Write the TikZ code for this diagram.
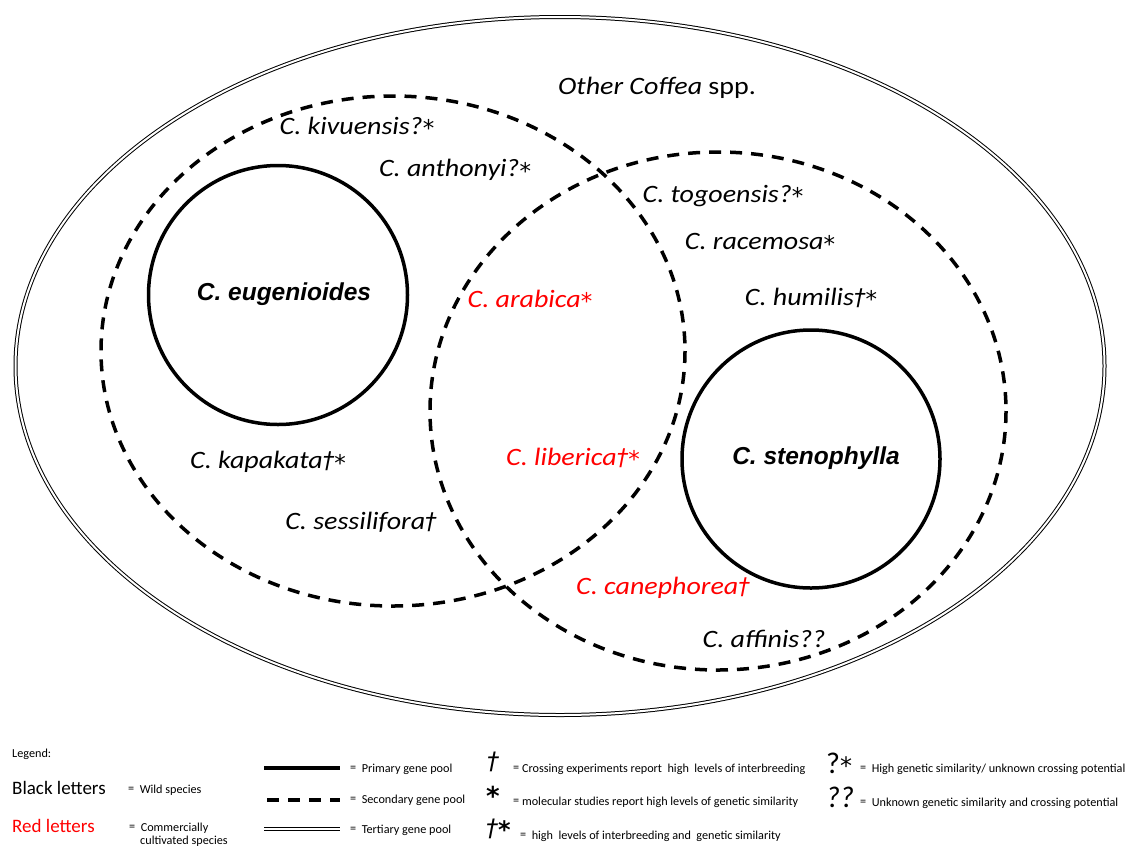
\documentclass[tikz,border=0pt]{standalone}
\usepackage{fontspec}
\setmainfont{Carlito}
\newfontfamily\widefont{Carlito}[FakeStretch=1.12]
\newfontfamily\arialfont{Liberation Sans}
\newfontfamily\djv{DejaVu Sans}
\definecolor{cred}{RGB}{255,0,0}
\newcommand{\myast}{{\djv\fontsize{23}{25}\selectfont\raisebox{-2.5pt}{*}}}
\newcommand{\mydag}{{\djv\itshape\fontsize{23}{25}\selectfont †}}
\newcommand{\eq}{\raisebox{0.3pt}{=}}
\begin{document}
\begin{tikzpicture}[x=1pt,y=-1pt,
  pool1/.style={draw=black,line width=3.5pt},
  pool2/.style={draw=black,line width=3.5pt,dash pattern=on 12pt off 9pt},
  pool3/.style={draw=black,line width=1pt,double,double distance=2pt},
  lab/.style={font=\widefont\fontsize{25}{29}\selectfont\itshape,inner sep=0pt},
  redlab/.style={lab,text=cred},
  boldlab/.style={font=\fontsize{24.5}{28}\selectfont\arialfont\bfseries\itshape,inner sep=0pt},
  leg/.style={font=\fontsize{12.2}{15}\selectfont,anchor=west,inner sep=0pt},
  legbig/.style={font=\fontsize{19}{23}\selectfont,anchor=west,inner sep=0pt},
  sym/.style={font=\djv\fontsize{24}{28}\selectfont,anchor=west,inner sep=0pt}]
\useasboundingbox (0,0) rectangle (1145,849);
% pools
\draw[pool3] (560,366) ellipse [x radius=544.5, y radius=349];
\draw[pool2] (393,351) ellipse [x radius=292, y radius=255];
\draw[pool2] (718,411) ellipse [x radius=288, y radius=259];
\draw[pool1] (278,295) circle [radius=129.5];
\draw[pool1] (811,459) circle [radius=129];
% labels
\node[lab] (other) at (657,88) {Other Coffea \upshape spp.};
\node[lab] (kiv) at (357,127) {C. kivuensis?\myast};
\node[lab] (ant) at (455,170) {C. anthonyi?\myast};
\node[lab] (tog) at (723,196) {C. togoensis?\myast};
\node[lab] (rac) at (760,243) {C. racemosa\myast};
\node[lab] (hum) at (811,298) {C. humilis\mydag\myast};
\node[boldlab] (eug) at (284,294) {C. eugenioides};
\node[redlab] (ara) at (530,300) {C. arabica\myast};
\node[redlab] (lib) at (573,458) {C. liberica\mydag\myast};
\node[boldlab] (ste) at (816,458) {C. stenophylla};
\node[lab] (kap) at (268,462) {C. kapakata\mydag\myast};
\node[lab] (ses) at (361,522) {C. sessilifora\mydag};
\node[redlab] (can) at (663,588) {C. canephorea\mydag};
\node[lab] (aff) at (764,639) {C. affinis??};
% legend
\node[leg] (legend) at (12,754) {Legend:};
\node[legbig] (black) at (12,788) {Black letters};
\node[leg] (wild) at (128,790) {\eq\ \ Wild species};
\node[legbig,text=cred] (red) at (12,826) {Red letters};
\node[leg] (comm) at (129,828) {\eq\ \ Commercially};
\node[leg] (cult) at (140,841) {cultivated species};
\coordinate (p1a) at (264,768); \coordinate (p1b) at (340,768);
\draw[pool1,line width=4pt] (p1a) -- (p1b);
\node[leg] (prim) at (350,769) {\eq\ \ Primary gene pool};
\coordinate (p2a) at (267,800); \coordinate (p2b) at (340,800);
\draw[pool2] (p2a) -- (p2b);
\node[leg] (sec) at (350,800) {\eq\ \ Secondary gene pool};
\coordinate (p3a) at (264,829); \coordinate (p3b) at (340,829);
\draw[pool3] (p3a) -- (p3b);
\node[leg] (ter) at (350,830) {\eq\ \ Tertiary gene pool};
\node[sym,font=\djv\itshape\fontsize{24}{28}\selectfont] (s1) at (487,762) {†};
\node[leg] (t1) at (513,769) {\eq{} Crossing experiments report\ \ high\ \ levels of interbreeding};
\node[sym,font=\djv\bfseries\fontsize{26}{28}\selectfont] (s2) at (486,796) {*};
\node[leg] (t2) at (513,802) {\eq{} molecular studies report high levels of genetic similarity};
\node[sym,font=\djv\itshape\fontsize{24}{28}\selectfont] (s3) at (486,829) {†\raisebox{-2pt}{\bfseries*}};
\node[leg] (t3) at (520,836) {\eq\ \ high\ \ levels of interbreeding and\ \ genetic similarity};
\node[sym,font=\fontsize{30}{32}\selectfont] (s4) at (826,764) {?\raisebox{-1pt}{\djv\fontsize{24}{26}\selectfont*}};
\node[leg] (t4) at (860,769) {\eq\ \ High genetic similarity/ unknown crossing potential};
\node[sym,font=\fontsize{30}{32}\selectfont\itshape] (s5) at (826,797) {??};
\node[leg] (t5) at (860,803) {\eq\ \ Unknown genetic similarity and crossing potential};
\end{tikzpicture}
\end{document}
